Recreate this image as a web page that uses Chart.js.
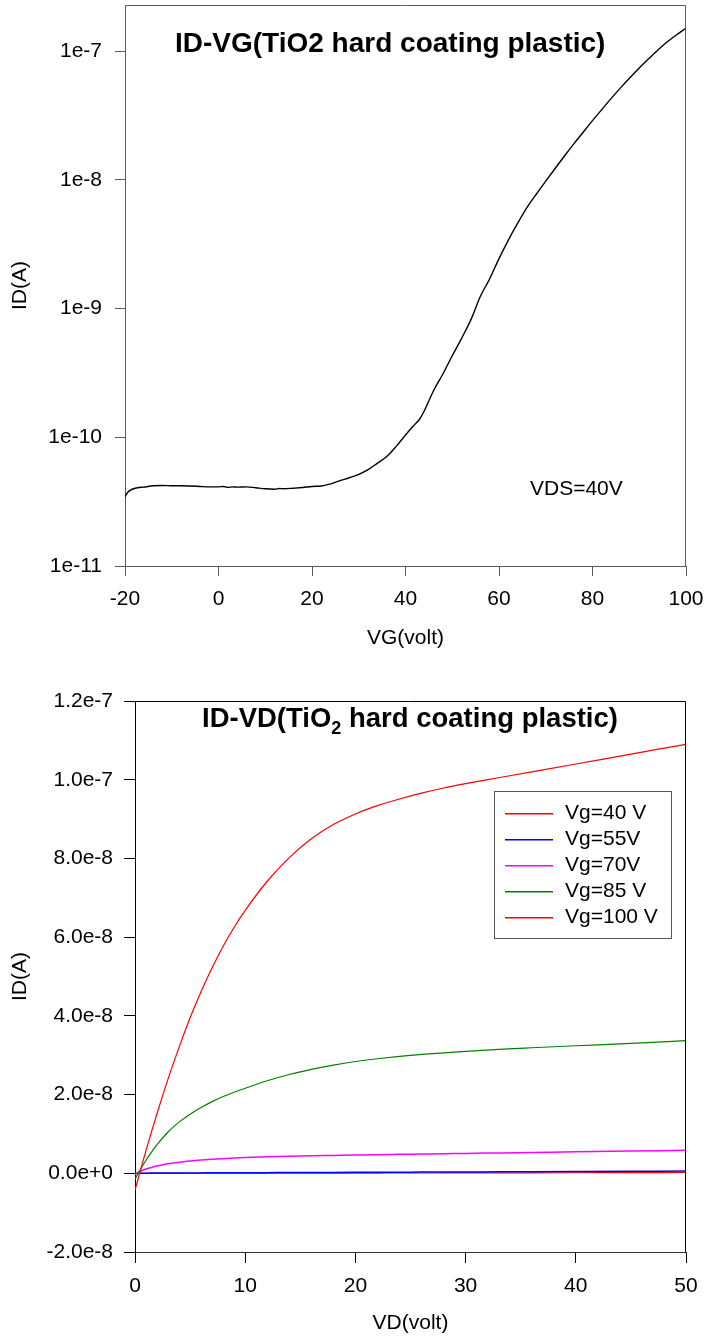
<!DOCTYPE html>
<html><head><meta charset="utf-8">
<script src="https://cdn.jsdelivr.net/npm/chart.js@4.4.0/dist/chart.umd.min.js"></script>
<style>
html,body{margin:0;padding:0;background:#fff;}
#wrap{position:relative;width:705px;height:1337px;overflow:hidden;background:#fff;}
canvas{position:absolute;left:0;}
</style></head><body>
<div id="wrap">
<canvas id="c1" width="705" height="660" style="top:0;width:705px;height:660px"></canvas>
<canvas id="c2" width="705" height="677" style="top:660px;width:705px;height:677px"></canvas>
</div>
<script>
const FONT = "'Liberation Sans', Arial, Helvetica, sans-serif";

// ---------- Top chart: ID-VG (log) ----------
const vgValues = [-20,-19.5,-19,-18,-17,-16,-14,-12,-10,-8,-6,-4,-2,0,1,2,3,4,6,8,10,12,13,14,16,18,20,22,24,26,28,30,32,34,36,38,40,41,42,43,44,46,48,50,52,54,56,58,60,62,64,66,68,70,72,74,76,78,80,82,84,86,88,90,92,94,96,98,100];
const idVgValues = [3.45e-11,3.7e-11,3.85e-11,4.0e-11,4.07e-11,4.1e-11,4.2e-11,4.22e-11,4.2e-11,4.2e-11,4.18e-11,4.15e-11,4.12e-11,4.12e-11,4.15e-11,4.08e-11,4.12e-11,4.1e-11,4.12e-11,4.05e-11,3.98e-11,3.95e-11,4.0e-11,3.98e-11,4.02e-11,4.07e-11,4.15e-11,4.18e-11,4.35e-11,4.6e-11,4.85e-11,5.15e-11,5.6e-11,6.3e-11,7.1e-11,8.5e-11,1.04e-10,1.15e-10,1.26e-10,1.38e-10,1.6e-10,2.3e-10,3.1e-10,4.3e-10,5.87e-10,8.2e-10,1.24e-9,1.7e-9,2.44e-9,3.4e-9,4.6e-9,6.1e-9,7.76e-9,9.77e-9,1.225e-8,1.53e-8,1.9e-8,2.34e-8,2.88e-8,3.52e-8,4.29e-8,5.18e-8,6.2e-8,7.38e-8,8.7e-8,1.02e-7,1.18e-7,1.34e-7,1.507e-7];
const vgTicks = [-20,0,20,40,60,80,100];
const idLogTicks = [1e-11,1e-10,1e-9,1e-8,1e-7];
const idLogTickLabels = ['1e-11','1e-10','1e-9','1e-8','1e-7'];

// ---------- Bottom chart: ID-VD (linear) ----------
const vdValues = [0,0.5,1,1.5,2,3,4,5,6,7,8,9,10,12,14,16,18,20,22,24,26,28,30,33,36,40,45,50];
const seriesLabels = ['Vg=40 V','Vg=55V','Vg=70V','Vg=85 V','Vg=100 V'];
const seriesColors = ['#ff0000','#0000ff','#ff00ff','#008000','#ff0000'];
const idVg40 = [0,0,0,0,0,0,0,0.01e-9,0.01e-9,0.01e-9,0.02e-9,0.02e-9,0.02e-9,0.03e-9,0.03e-9,0.04e-9,0.05e-9,0.05e-9,0.06e-9,0.07e-9,0.07e-9,0.08e-9,0.09e-9,0.1e-9,0.12e-9,0.14e-9,0.17e-9,0.2e-9];
const idVg55 = [0,0.02e-9,0.04e-9,0.05e-9,0.06e-9,0.07e-9,0.08e-9,0.09e-9,0.1e-9,0.11e-9,0.12e-9,0.13e-9,0.14e-9,0.16e-9,0.18e-9,0.2e-9,0.22e-9,0.24e-9,0.26e-9,0.28e-9,0.3e-9,0.32e-9,0.34e-9,0.37e-9,0.4e-9,0.44e-9,0.5e-9,0.56e-9];
const idVg70 = [-0.3e-9,0.5e-9,1.1e-9,1.5e-9,1.85e-9,2.4e-9,2.8e-9,3.1e-9,3.35e-9,3.55e-9,3.72e-9,3.86e-9,3.98e-9,4.18e-9,4.33e-9,4.45e-9,4.55e-9,4.65e-9,4.74e-9,4.82e-9,4.9e-9,4.98e-9,5.05e-9,5.18e-9,5.3e-9,5.47e-9,5.66e-9,5.85e-9];
const idVg85 = [-1.5e-9,1.0e-9,3.3e-9,5.4e-9,7.3e-9,1.05e-8,1.3e-8,1.5e-8,1.67e-8,1.82e-8,1.95e-8,2.06e-8,2.16e-8,2.35e-8,2.51e-8,2.64e-8,2.75e-8,2.84e-8,2.91e-8,2.97e-8,3.02e-8,3.06e-8,3.1e-8,3.15e-8,3.19e-8,3.24e-8,3.3e-8,3.37e-8];
const idVg100 = [-4.3e-9,0.8e-9,5.8e-9,1.06e-8,1.52e-8,2.4e-8,3.2e-8,3.95e-8,4.62e-8,5.22e-8,5.77e-8,6.25e-8,6.68e-8,7.42e-8,8.02e-8,8.5e-8,8.86e-8,9.13e-8,9.34e-8,9.51e-8,9.66e-8,9.79e-8,9.9e-8,1.005e-7,1.02e-7,1.04e-7,1.065e-7,1.09e-7];
const vdTicks = [0,10,20,30,40,50];
const idLinTicks = [-2e-8,0,2e-8,4e-8,6e-8,8e-8,1e-7,1.2e-7];
const idLinTickLabels = ['-2.0e-8','0.0e+0','2.0e-8','4.0e-8','6.0e-8','8.0e-8','1.0e-7','1.2e-7'];

const pts = (xs, ys) => xs.map((x, i) => ({x, y: ys[i]}));
const noPad = s => { s.paddingTop = 0; s.paddingBottom = 0; s.paddingLeft = 0; s.paddingRight = 0; };

// frame (top & right edges)
const framePlugin = {
  id: 'frame',
  afterDraw(chart, args, o) {
    const {ctx, chartArea: a} = chart;
    ctx.save();
    ctx.strokeStyle = o.color; ctx.lineWidth = 1;
    ctx.beginPath();
    const l = Math.round(a.left) + 0.5, r = Math.round(a.right) - 0.5, t = Math.round(a.top) + 0.5, b = Math.round(a.bottom) + 0.5;
    ctx.moveTo(l, t); ctx.lineTo(r, t); ctx.lineTo(r, b);
    ctx.stroke();
    ctx.restore();
  }
};

// text annotations
const textPlugin = {
  id: 'texts',
  afterDraw(chart, args, o) {
    const ctx = chart.ctx;
    ctx.save();
    ctx.fillStyle = '#000';
    ctx.textBaseline = 'alphabetic';
    ctx.textAlign = 'left';
    (o.items || []).forEach(it => {
      let x = it.x;
      it.parts.forEach(p => {
        ctx.font = (p.bold ? 'bold ' : '') + p.size + 'px ' + FONT;
        ctx.fillText(p.t, x, it.y + (p.dy || 0));
        x += ctx.measureText(p.t).width;
      });
    });
    ctx.restore();
  }
};

// legend box inside plot
const legendPlugin = {
  id: 'boxLegend',
  afterDraw(chart, args, o) {
    if (!o.show) return;
    const ctx = chart.ctx;
    ctx.save();
    ctx.fillStyle = '#fff';
    ctx.fillRect(o.x, o.y, o.w, o.h);
    ctx.strokeStyle = '#555'; ctx.lineWidth = 1;
    ctx.strokeRect(o.x + 0.5, o.y + 0.5, o.w, o.h);
    ctx.font = '21px ' + FONT;
    ctx.textBaseline = 'middle';
    ctx.textAlign = 'left';
    for (let i = 0; i < seriesLabels.length; i++) {
      const y = Math.round(o.rowY0 + i * o.rowH);
      ctx.fillStyle = seriesColors[i];
      ctx.fillRect(o.lx0, y, o.lx1 - o.lx0, 1.5);
      ctx.fillStyle = '#000';
      ctx.fillText(seriesLabels[i], o.tx, y);
    }
    ctx.restore();
  }
};

const tickFont = {family: FONT, size: 21};

// ---------- Top chart ----------
new Chart(document.getElementById('c1'), {
  type: 'scatter',
  data: { datasets: [{
    data: pts(vgValues, idVgValues), showLine: true, borderColor: '#000', borderWidth: 1.4,
    pointRadius: 0, cubicInterpolationMode: 'monotone', fill: false
  }]},
  options: {
    responsive: false, animation: false, devicePixelRatio: 1,
    layout: { padding: {top: 5, right: 19, left: 0, bottom: 0} },
    plugins: {
      legend: {display: false}, tooltip: {enabled: false},
      frame: {color: '#5a5a5a'},
      texts: {items: [
        {x: 175, y: 52, parts: [{t: 'ID-VG(TiO2 hard coating plastic)', bold: true, size: 28}]},
        {x: 530, y: 495, parts: [{t: 'VDS=40V', size: 21}]}
      ]},
      boxLegend: {show: false}
    },
    scales: {
      x: {
        type: 'linear', min: -20, max: 100,
        afterBuildTicks: s => { s.ticks = vgTicks.map(v => ({value: v})); },
        afterFit: s => { s.height = 94; noPad(s); },
        ticks: {autoSkip: false, maxRotation: 0, color: '#000', font: tickFont, padding: 11},
        grid: {drawOnChartArea: false, drawTicks: true, tickLength: 10, tickColor: '#5a5a5a'},
        border: {display: true, color: '#5a5a5a', width: 1},
        title: {display: true, text: 'VG(volt)', color: '#000', font: tickFont, padding: {top: 0, bottom: 9}}
      },
      y: {
        type: 'logarithmic', min: 1e-11, max: 2.28e-7,
        afterBuildTicks: s => { s.ticks = idLogTicks.map(v => ({value: v})); },
        afterFit: s => { s.width = 125; noPad(s); },
        ticks: {autoSkip: false, color: '#000', font: tickFont, padding: 13,
          callback: v => { const i = idLogTicks.findIndex(t => Math.abs(t - v) <= t * 1e-6); return i >= 0 ? idLogTickLabels[i] : ''; }},
        grid: {drawOnChartArea: false, drawTicks: true, tickLength: 10, tickColor: '#5a5a5a'},
        border: {display: true, color: '#5a5a5a', width: 1},
        title: {display: true, text: 'ID(A)', color: '#000', font: tickFont, padding: {top: 8, bottom: 0}}
      }
    }
  },
  plugins: [framePlugin, textPlugin, legendPlugin]
});

// ---------- Bottom chart ----------
const bottomSeries = [idVg40, idVg55, idVg70, idVg85, idVg100];
const order = [4, 3, 2, 1, 0];
new Chart(document.getElementById('c2'), {
  type: 'scatter',
  data: { datasets: order.map(i => ({
    label: seriesLabels[i], data: pts(vdValues, bottomSeries[i]), showLine: true,
    borderColor: seriesColors[i], borderWidth: (i === 1 || i === 2) ? 1.5 : 1.2,
    pointRadius: 0, cubicInterpolationMode: 'monotone', fill: false
  }))},
  options: {
    responsive: false, animation: false, devicePixelRatio: 1,
    layout: { padding: {top: 41, right: 19, left: 0, bottom: 0} },
    plugins: {
      legend: {display: false}, tooltip: {enabled: false},
      frame: {color: '#000'},
      texts: {items: [
        {x: 202, y: 67, parts: [
          {t: 'ID-VD(TiO', bold: true, size: 27.5},
          {t: '2', bold: true, size: 18, dy: 7},
          {t: ' hard coating plastic)', bold: true, size: 27.5}
        ]}
      ]},
      boxLegend: {show: true, x: 494, y: 131, w: 177, h: 147, rowY0: 153, rowH: 26, lx0: 505, lx1: 553, tx: 565}
    },
    scales: {
      x: {
        type: 'linear', min: 0, max: 50,
        afterBuildTicks: s => { s.ticks = vdTicks.map(v => ({value: v})); },
        afterFit: s => { s.height = 85; noPad(s); },
        ticks: {autoSkip: false, maxRotation: 0, color: '#000', font: tickFont, padding: 11},
        grid: {drawOnChartArea: false, drawTicks: true, tickLength: 11, tickColor: '#000'},
        border: {display: true, color: '#333', width: 1},
        title: {display: true, text: 'VD(volt)', color: '#000', font: tickFont, padding: {top: 0, bottom: 1}}
      },
      y: {
        type: 'linear', min: -2e-8, max: 1.2e-7,
        afterBuildTicks: s => { s.ticks = idLinTicks.map(v => ({value: v})); },
        afterFit: s => { s.width = 135; noPad(s); },
        ticks: {autoSkip: false, color: '#000', font: tickFont, padding: 11,
          callback: v => { const i = idLinTicks.findIndex(t => Math.abs(t - v) < 1e-12); return i >= 0 ? idLinTickLabels[i] : ''; }},
        grid: {drawOnChartArea: false, drawTicks: true, tickLength: 11, tickColor: '#000'},
        border: {display: true, color: '#000', width: 1},
        title: {display: true, text: 'ID(A)', color: '#000', font: tickFont, padding: {top: 8, bottom: 0}}
      }
    }
  },
  plugins: [framePlugin, textPlugin, legendPlugin]
});
</script>
</body></html>
